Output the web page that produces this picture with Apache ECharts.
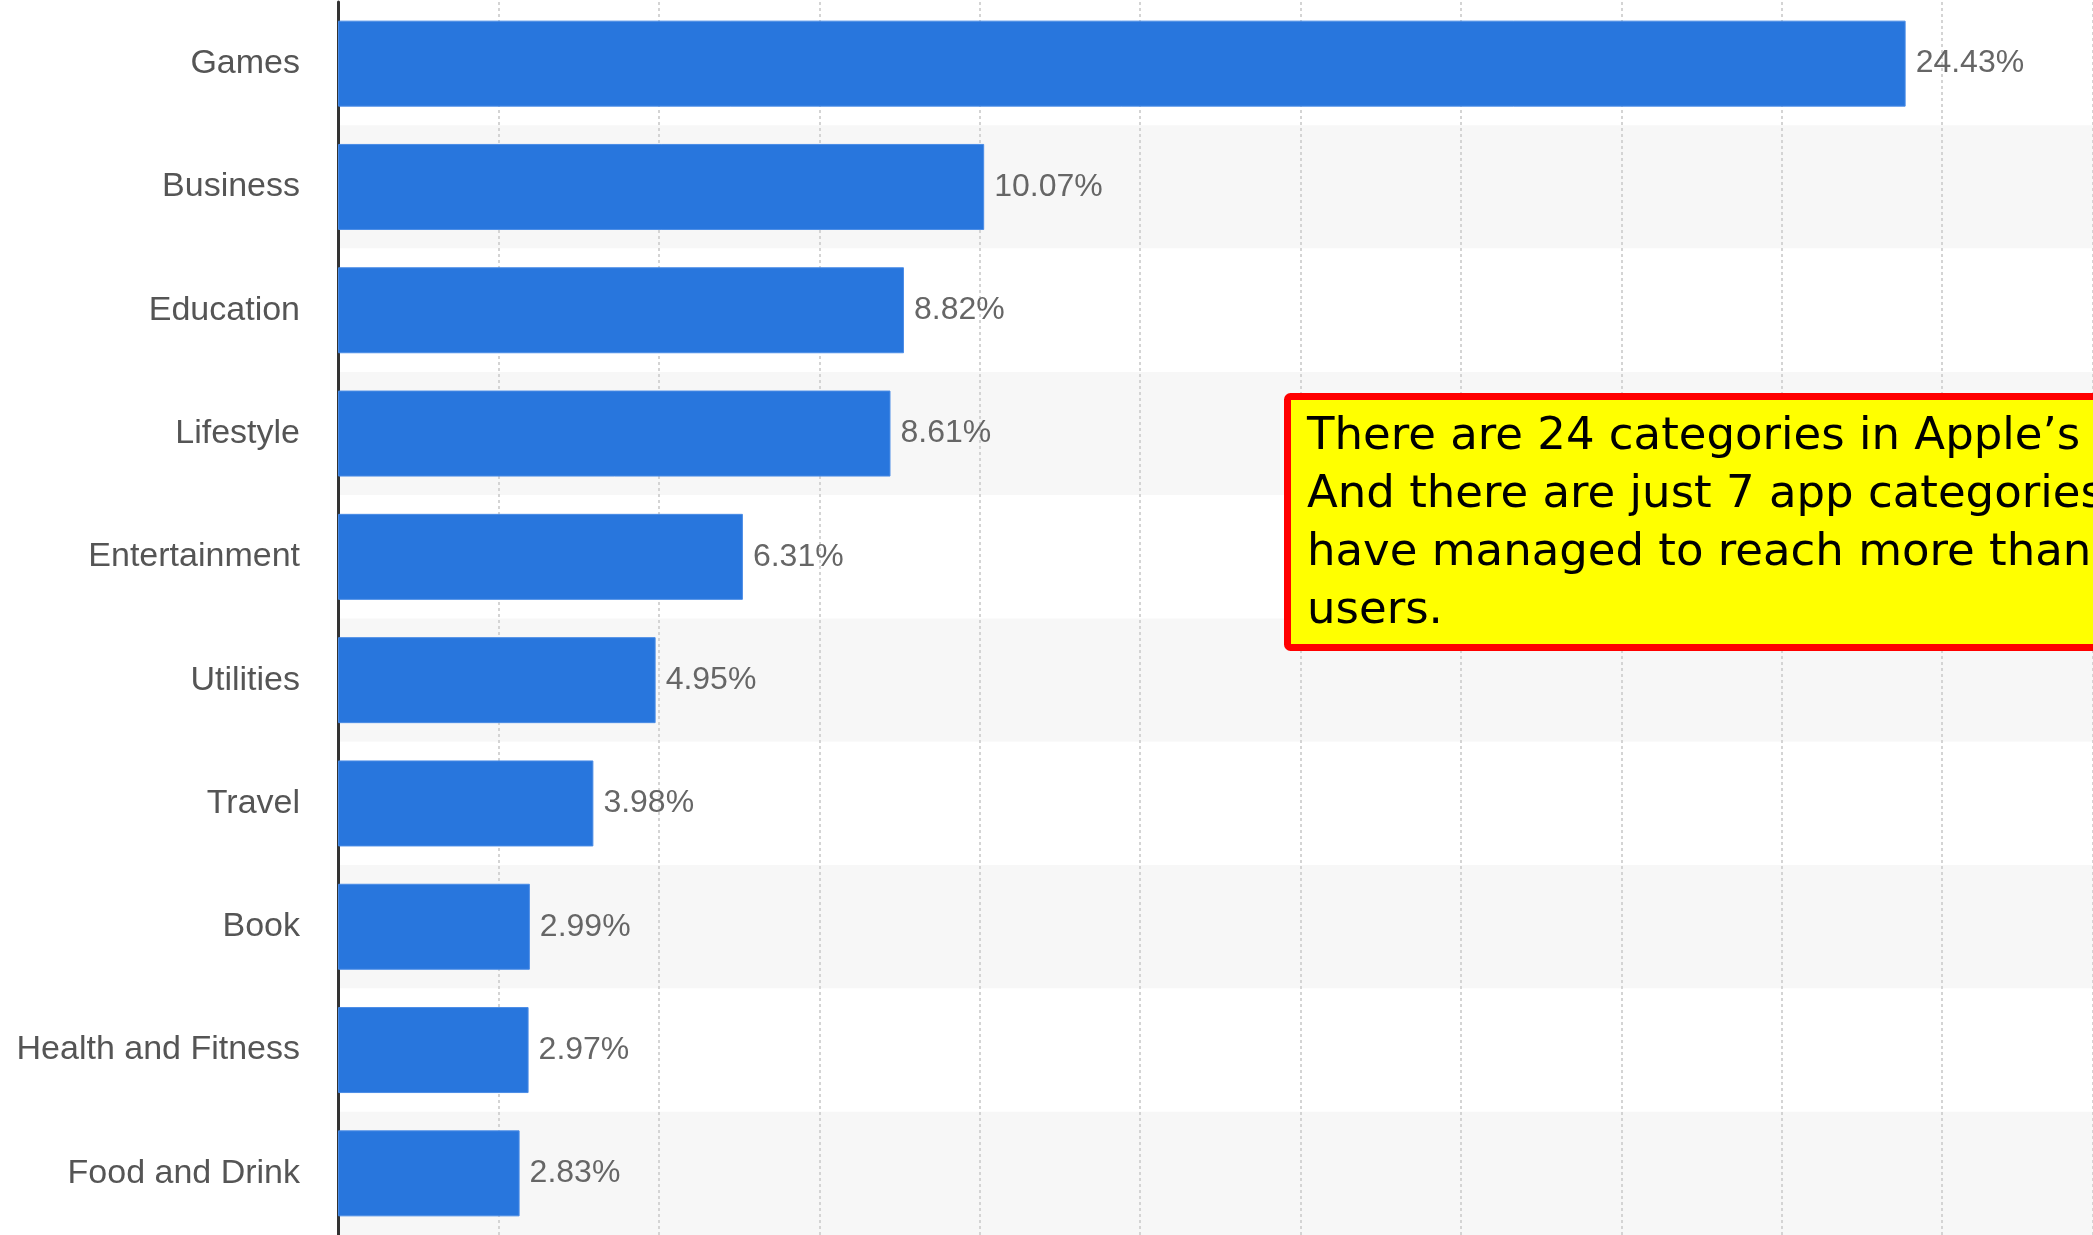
<!DOCTYPE html>
<html>
<head>
<meta charset="utf-8">
<script src="https://cdn.jsdelivr.net/npm/echarts@6/dist/echarts.min.js"></script>
<style>
html,body{margin:0;padding:0;background:#fff;}
#chart{width:2093px;height:1235px;}
</style>
</head>
<body>
<div id="chart"></div>
<script>
const categories = ["Games","Business","Education","Lifestyle","Entertainment","Utilities","Travel","Book","Health and Fitness","Food and Drink"];
const shares = [24.43, 10.07, 8.82, 8.61, 6.31, 4.95, 3.98, 2.99, 2.97, 2.83];
const noteLines = ["There are 24 categories in Apple’s App Store.", "And there are just 7 app categories that", "have managed to reach more than 5% of", "users."];

const chart = echarts.init(document.getElementById('chart'));
chart.setOption({
  animation: false,
  backgroundColor: '#ffffff',
  grid: { left: 338, right: 0, top: 2, bottom: 0, containLabel: false },
  xAxis: {
    type: 'value', min: 0, max: 27.35, interval: 2.5,
    axisLine: { show: false }, axisTick: { show: false }, axisLabel: { show: false },
    splitLine: { show: true, lineStyle: { type: [3, 3], color: '#d4d4d4', width: 2 } }
  },
  yAxis: {
    type: 'category', data: categories, inverse: true,
    axisLine: { show: true, lineStyle: { color: '#333333', width: 3 } },
    axisTick: { show: false },
    axisLabel: { margin: 38, fontSize: 34, color: '#555555', fontFamily: 'Liberation Sans, Arial, sans-serif' },
    splitLine: { show: false },
    splitArea: { show: true, areaStyle: { color: ['#ffffff', '#f7f7f7'] } }
  },
  series: [{
    type: 'bar', data: shares, barWidth: 86,
    itemStyle: { color: '#2876dd', borderColor: '#4a8ce6', borderWidth: 1 },
    label: {
      show: true, position: 'right', distance: 10,
      formatter: p => p.value.toFixed(2) + '%',
      fontSize: 32, color: '#666666', fontFamily: 'Liberation Sans, Arial, sans-serif'
    }
  }],
  graphic: [
    { type: 'rect', z: 100,
      shape: { x: 1287.5, y: 396.5, width: 900, height: 251, r: 3 },
      style: { fill: '#ffff00', stroke: '#ff0000', lineWidth: 7 } },
    { type: 'text', z: 101, x: 1307, y: 408,
      style: { text: noteLines.join('\n'), font: '45px "DejaVu Sans", sans-serif', fill: '#000000', lineHeight: 58, verticalAlign: 'top', align: 'left' } }
  ]
});
</script>
</body>
</html>
